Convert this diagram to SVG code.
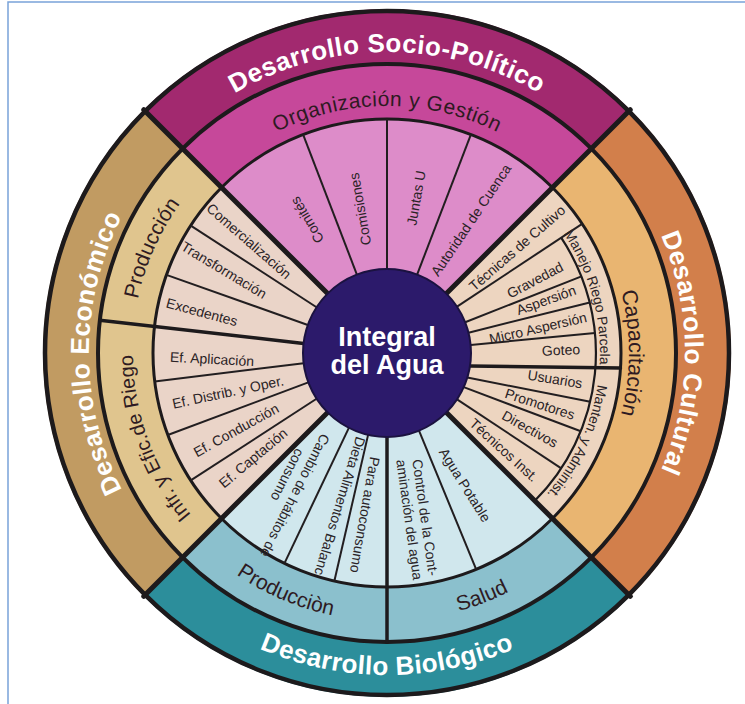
<svg xmlns="http://www.w3.org/2000/svg" xmlns:xlink="http://www.w3.org/1999/xlink" width="745" height="704" viewBox="0 0 745 704">
<style>
text{font-family:"Liberation Sans",Arial,sans-serif}
.band{font-size:26px;font-weight:bold;fill:#ffffff;text-anchor:middle;letter-spacing:0.4px}
.ring{font-size:21px;fill:#2e1a22;text-anchor:middle}
.thin{font-size:14px;fill:#2a2326;text-anchor:middle}
.cell{font-size:14px;fill:#2a2326;text-anchor:middle}
.major{stroke:#1d1a1c;stroke-width:5;stroke-linecap:round}
.mid{stroke:#1d1a1c;stroke-width:3.5;stroke-linecap:round}
.minor{stroke:#221e20;stroke-width:2}
.edge{fill:none;stroke:#1d1a1c}
</style>
<defs>
<path id="pSocio" d="M104.15,250.05 A301,301 0 0 1 669.85,250.05"/>
<path id="pEcon" d="M285.08,633.03 A298,298 0 0 1 285.08,72.97"/>
<path id="pCult" d="M488.92,72.97 A298,298 0 0 1 488.92,633.03"/>
<path id="pBio" d="M84.42,463.13 A322,322 0 0 0 689.58,463.13"/>
<path id="pOrg" d="M154.9,268.52 A247,247 0 0 1 619.1,268.52"/>
<path id="pProdE" d="M166.16,480.5 A255,255 0 0 1 333.98,103.57"/>
<path id="pRiego" d="M316.99,597.16 A254,254 0 0 1 176.42,210.97"/>
<path id="pCap" d="M529.24,157.22 A242,242 0 0 1 529.24,548.78"/>
<path id="pProdB" d="M138.52,453.4 A268,268 0 0 0 487.4,601.48"/>
<path id="pSalud" d="M279.28,598.4 A268,268 0 0 0 632.4,460.72"/>
<path id="pManejo" d="M475.33,159.18 A213,213 0 0 1 562.54,473.65"/>
<path id="pManten" d="M580.04,262.98 A213,213 0 0 1 442.13,558.74"/>
</defs>
<rect width="745" height="704" fill="#ffffff"/>
<path d="M8,704 V2 H745" fill="none" stroke="#7aa3d9" stroke-width="1.5"/>

<g id="sector-socio-politico">
<path d="M387,353 L143.76,109.76 A344,344 0 0 1 630.24,109.76 Z" fill="#a2296f"/>
<path d="M387,353 L182.65,148.65 A289,289 0 0 1 591.35,148.65 Z" fill="#c6489a"/>
<path d="M387,353 L221.54,187.54 A234,234 0 0 1 552.46,187.54 Z" fill="#dd8cc9"/>
</g>
<g id="sector-cultural">
<path d="M387,353 L630.24,109.76 A344,344 0 0 1 630.24,596.24 Z" fill="#d27f4b"/>
<path d="M387,353 L591.35,148.65 A289,289 0 0 1 591.35,557.35 Z" fill="#e9b571"/>
<path d="M387,353 L552.46,187.54 A234,234 0 0 1 552.46,518.46 Z" fill="#edd5c0"/>
</g>
<g id="sector-biologico">
<path d="M387,353 L630.24,596.24 A344,344 0 0 1 143.76,596.24 Z" fill="#2c8e9b"/>
<path d="M387,353 L591.35,557.35 A289,289 0 0 1 182.65,557.35 Z" fill="#8bc0cd"/>
<path d="M387,353 L552.46,518.46 A234,234 0 0 1 221.54,518.46 Z" fill="#d0e7ed"/>
</g>
<g id="sector-economico">
<path d="M387,353 L143.76,596.24 A344,344 0 0 1 143.76,109.76 Z" fill="#c19b62"/>
<path d="M387,353 L182.65,557.35 A289,289 0 0 1 182.65,148.65 Z" fill="#e0c58e"/>
<path d="M387,353 L221.54,518.46 A234,234 0 0 1 221.54,187.54 Z" fill="#ead4c8"/>
</g>

<g id="connectors">
<circle class="edge" cx="387" cy="353" r="342" stroke-width="4.5"/>
<circle class="edge" cx="387" cy="353" r="289" stroke-width="4"/>
<circle class="edge" cx="387" cy="353" r="234" stroke-width="3"/>
<path class="edge" d="M582.13,223.85 L582.13,223.85 M561.19,237.71 A209,209 0 0 1 534.79,500.79" stroke-width="2.2"/>
<line class="major" x1="327.6" y1="293.6" x2="143.76" y2="109.76"/>
<line class="major" x1="446.4" y1="293.6" x2="630.24" y2="109.76"/>
<line class="major" x1="446.4" y1="412.4" x2="630.24" y2="596.24"/>
<line class="major" x1="327.6" y1="412.4" x2="143.76" y2="596.24"/>
<line class="mid" x1="303.54" y1="343.49" x2="99.86" y2="320.29"/>
<line class="mid" x1="387" y1="437" x2="387" y2="642"/>
<line class="mid" x1="470" y1="366" x2="620.5" y2="368.1"/>
<line class="minor" x1="356.9" y1="274.58" x2="303.14" y2="134.54"/>
<line class="minor" x1="387" y1="269" x2="387" y2="119"/>
<line class="minor" x1="417.1" y1="274.58" x2="470.86" y2="134.54"/>
<line class="minor" x1="307.82" y1="324.96" x2="166.42" y2="274.89"/>
<line class="minor" x1="316.55" y1="307.25" x2="190.75" y2="225.55"/>
<line class="minor" x1="303.63" y1="363.24" x2="154.74" y2="381.52"/>
<line class="minor" x1="308.32" y1="382.42" x2="167.82" y2="434.95"/>
<line class="minor" x1="316.55" y1="398.75" x2="190.75" y2="480.45"/>
<line class="minor" x1="457.05" y1="306.64" x2="582.13" y2="223.85"/>
<line class="minor" x1="465.16" y1="322.21" x2="581.46" y2="276.4"/>
<line class="minor" x1="468.5" y1="332.68" x2="589.79" y2="302.44"/>
<line class="minor" x1="470.61" y1="344.95" x2="595.04" y2="332.97"/>
<line class="minor" x1="467.33" y1="377.56" x2="590.23" y2="401.79"/>
<line class="minor" x1="463.74" y1="387.17" x2="580.78" y2="431.29"/>
<line class="minor" x1="457.05" y1="399.36" x2="561.28" y2="468.36"/>
<line class="minor" x1="348.86" y1="427.84" x2="284.42" y2="563.32"/>
<line class="minor" x1="368.1" y1="434.85" x2="334.36" y2="581"/>
<line class="minor" x1="419.01" y1="430.66" x2="476.17" y2="569.34"/>
</g>

<g id="center">
<circle cx="387" cy="353" r="84" fill="#2c1a6b" stroke="#1b1240" stroke-width="2"/>
<text x="387" y="346" font-size="27" font-weight="bold" fill="#ffffff" text-anchor="middle">Integral</text>
<text x="387" y="374" font-size="27" font-weight="bold" fill="#ffffff" text-anchor="middle">del Agua</text>
</g>

<g id="label-socio-politico">
<text class="band"><textPath xlink:href="#pSocio" href="#pSocio" startOffset="50%">Desarrollo Socio-Político</textPath></text>
<text class="ring" style="letter-spacing:0.5px"><textPath xlink:href="#pOrg" href="#pOrg" startOffset="50%">Organización y Gestión</textPath></text>
<text class="cell" transform="translate(307,220) rotate(-121)" y="5">Comités</text>
<text class="cell" transform="translate(360,209) rotate(-100)" y="5">Comisiones</text>
<text class="cell" transform="translate(416,198) rotate(-80)" y="5">Juntas U</text>
<text class="cell" transform="translate(471,220) rotate(-56)" y="5">Autoridad de Cuenca</text>
</g>

<g id="label-economico">
<text class="band"><textPath xlink:href="#pEcon" href="#pEcon" startOffset="50%">Desarrollo Económico</textPath></text>
<text class="ring"><textPath xlink:href="#pProdE" href="#pProdE" startOffset="50%">Producción</textPath></text>
<text class="ring" style="font-size:20px"><textPath xlink:href="#pRiego" href="#pRiego" startOffset="50%">Infr. y Efic.de Riego</textPath></text>
<text class="cell" transform="translate(249,241) rotate(41)" y="5">Comercialización</text>
<text class="cell" transform="translate(224,270) rotate(31)" y="5">Transformación</text>
<text class="cell" transform="translate(202,312) rotate(15)" y="5">Excedentes</text>
<text class="cell" transform="translate(212,359) rotate(3)" y="5">Ef. Aplicación</text>
<text class="cell" transform="translate(228,392) rotate(-12)" y="5">Ef. Distrib. y Oper.</text>
<text class="cell" transform="translate(236,430) rotate(-29)" y="5">Ef. Conducción</text>
<text class="cell" transform="translate(253,458) rotate(-40)" y="5">Ef. Captación</text>
</g>

<g id="label-cultural">
<text class="band"><textPath xlink:href="#pCult" href="#pCult" startOffset="50%">Desarrollo Cultural</textPath></text>
<text class="ring" style="font-size:21.5px"><textPath xlink:href="#pCap" href="#pCap" startOffset="50%">Capacitación</textPath></text>
<text class="thin"><textPath xlink:href="#pManejo" href="#pManejo" startOffset="50%">Manejo Riego Parcela</textPath></text>
<text class="thin"><textPath xlink:href="#pManten" href="#pManten" startOffset="50%">Manten. y Administ.</textPath></text>
<text class="cell" transform="translate(517,248) rotate(-41)" y="5">Técnicas de Cultivo</text>
<text class="cell" transform="translate(535,280) rotate(-28)" y="5">Gravedad</text>
<text class="cell" transform="translate(546,300) rotate(-20)" y="5">Aspersión</text>
<text class="cell" transform="translate(538,328) rotate(-13)" y="5">Micro Aspersión</text>
<text class="cell" transform="translate(561,350) rotate(-2)" y="5">Goteo</text>
<text class="cell" transform="translate(555,379) rotate(9)" y="5">Usuarios</text>
<text class="cell" transform="translate(540,404) rotate(18)" y="5">Promotores</text>
<text class="cell" transform="translate(530,429) rotate(29)" y="5">Directivos</text>
<text class="cell" transform="translate(504,450) rotate(42)" y="5">Técnicos Inst.</text>
</g>

<g id="label-biologico">
<text class="band"><textPath xlink:href="#pBio" href="#pBio" startOffset="50%">Desarrollo Biológico</textPath></text>
<text class="ring"><textPath xlink:href="#pProdB" href="#pProdB" startOffset="50%">Producciòn</textPath></text>
<text class="ring"><textPath xlink:href="#pSalud" href="#pSalud" startOffset="50%">Salud</textPath></text>
<g transform="translate(288,492) rotate(117)">
<text class="cell" x="0" y="-3">Cambio de hábitos de</text>
<text class="cell" x="-15" y="13">consumo</text>
</g>
<text class="cell" transform="translate(340,506) rotate(107)" y="5">Dieta Alimentos Balanc</text>
<text class="cell" transform="translate(365,515) rotate(100)" y="5">Para autoconsumo</text>
<g transform="translate(417.5,518.5) rotate(82)">
<text class="cell" x="0" y="-3">Control de la Cont-</text>
<text class="cell" x="0" y="13">aminación del agua</text>
</g>
<text class="cell" transform="translate(465,485) rotate(58)" y="5">Agua Potable</text>
</g>
</svg>
